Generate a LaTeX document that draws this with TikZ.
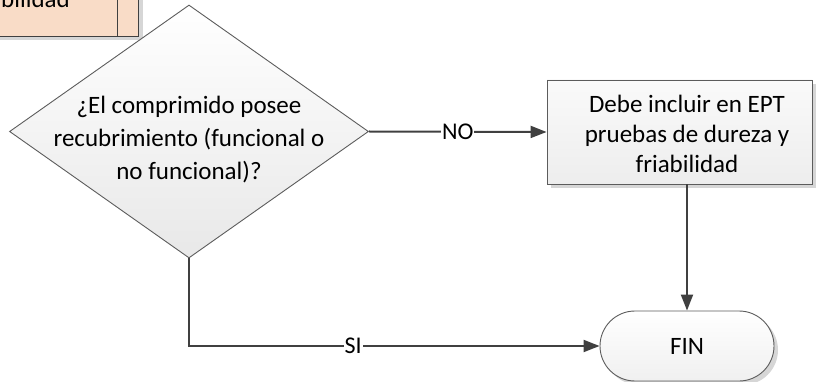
\documentclass[tikz,border=0pt]{standalone}
\usepackage{fontspec}
\setmainfont{Carlito}
\usetikzlibrary{shapes.geometric,arrows.meta,shadows,calc}
\definecolor{edge}{HTML}{5C5C5C}
\definecolor{wire}{HTML}{404040}
\definecolor{peach}{HTML}{F9DCC7}
\definecolor{shade}{HTML}{D6D6D6}

\begin{document}
\begin{tikzpicture}[x=1pt,y=-1pt,
  txt/.style={font=\fontsize{25}{31}\selectfont},
  boxshadow/.style={drop shadow={shadow xshift=4pt,shadow yshift=-4pt,fill=shade,opacity=1}},
  decision/.style={diamond,draw=edge,line width=0.9pt,minimum width=359pt,
    minimum height=253pt,aspect=1.42,inner sep=0pt,top color=white,bottom color=black!9},
  process/.style={rectangle,draw=edge,line width=0.9pt,minimum width=265pt,
    minimum height=104pt,inner sep=0pt,top color=black!2,bottom color=black!7,boxshadow},
  terminal/.style={rectangle,rounded corners=35pt,draw=edge,line width=0.9pt,
    minimum width=174pt,minimum height=70pt,inner sep=0pt,top color=white,
    bottom color=black!6,boxshadow,txt},
  flow/.style={draw=wire,line width=2pt,-{Triangle[length=16pt,width=12pt]}},
  flowlabel/.style={fill=white,inner sep=1pt,font=\fontsize{24}{28}\selectfont}
]
\useasboundingbox (0,0) rectangle (817,382);
\clip (0,0) rectangle (817,382);

% preceding step, mostly outside the frame
\node[rectangle,draw=wire,line width=1pt,fill=peach,minimum width=200pt,
  minimum height=100pt,anchor=south east,boxshadow] (prev) at (139,37) {};
\draw[wire,line width=1pt] (117.7,-70) -- (117.7,37);
\node[txt,anchor=base west,inner sep=0pt] (prevtext) at (-33,7.5) {friabilidad};

% decision
\node[decision] (q) at (189,131.5) {};
\node[txt,align=center,font=\fontsize{25}{33}\selectfont] (qtext) at (189,140)
  {¿El comprimido posee\\recubrimiento (funcional o\\no funcional)?};

% process
\node[process] (ept) at (679.5,132) {};
\node[txt,align=center,font=\fontsize{25}{30}\selectfont] (epttext) at (687,134)
  {Debe incluir en EPT\\pruebas de dureza y\\friabilidad};

% end
\node[terminal] (fin) at (687,346) {FIN};

% connectors
\draw[flow] (q.east) -- node[flowlabel] (no) {NO} (ept.west);
\draw[flow] (fin.north |- ept.south) -- (fin.north);
\draw[flow] (q.south) |- node[flowlabel,pos=0.7] (si) {SI} (fin.west);
\end{tikzpicture}
\end{document}
